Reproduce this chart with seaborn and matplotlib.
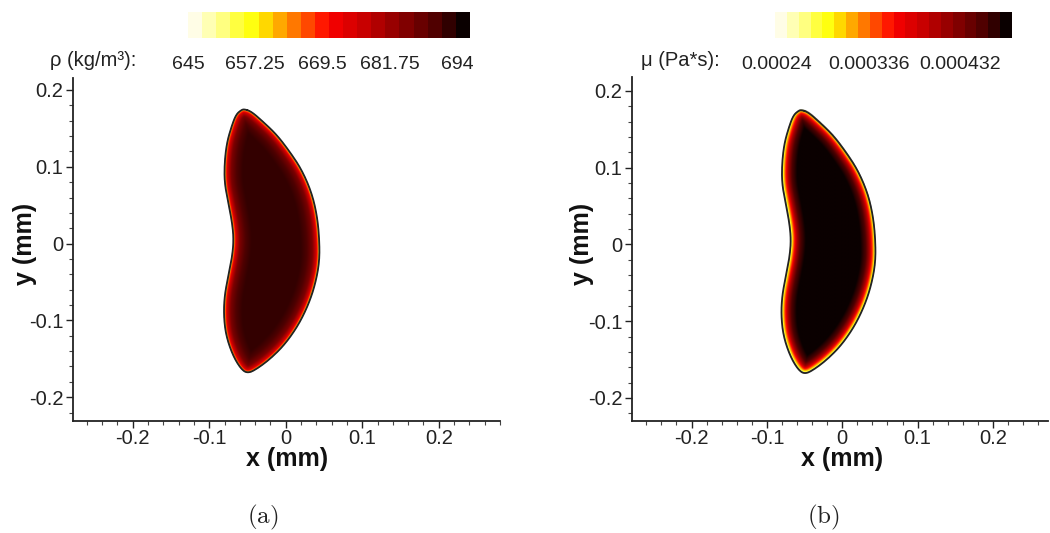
import numpy as np
import matplotlib
matplotlib.use("Agg")
import matplotlib.pyplot as plt
from matplotlib.path import Path
from matplotlib.colors import LinearSegmentedColormap, Normalize
from matplotlib.ticker import MultipleLocator
import seaborn as sns

# droplet interface (mm), traced from the upper tip, clockwise
outline_x = [-0.054, -0.045, -0.030, -0.012, 0.005, 0.021, 0.034, 0.041, 0.044,
             0.044, 0.038, 0.029, 0.016, -0.001, -0.019, -0.036, -0.049, -0.058,
             -0.069, -0.078, -0.081, -0.080, -0.075, -0.070, -0.068, -0.070,
             -0.075, -0.080, -0.080, -0.077, -0.071, -0.065, -0.058]
outline_y = [0.175, 0.172, 0.159, 0.142, 0.120, 0.096, 0.066, 0.036, 0.005,
             -0.025, -0.055, -0.081, -0.107, -0.131, -0.149, -0.162, -0.169, -0.164,
             -0.146, -0.120, -0.094, -0.068, -0.042, -0.017, 0.005, 0.027,
             0.053, 0.079, 0.105, 0.131, 0.152, 0.168, 0.174]

# colour bands of the legend, light to dark
band_colors = ["#fffde6", "#ffffb4", "#ffff80", "#ffff40", "#ffff10", "#ffd800",
               "#ffa800", "#ff7800", "#ff4800", "#ff1800", "#f00000", "#dc0000",
               "#c80000", "#b00000", "#980000", "#800000", "#680000", "#500000",
               "#300000", "#0a0000"]

# (a) density: value vs depth below the interface
rho_ticks = [645, 657.25, 669.5, 681.75, 694]
rho_labels = ["645", "657.25", "669.5", "681.75", "694"]
rho_range = (645, 696.4)
rho_depth = [0.0, 0.0015, 0.004, 0.009, 0.016, 0.024]
rho_value = [652, 664, 676, 686, 691, 693.3]

# (b) viscosity
mu_ticks = [0.00024, 0.000336, 0.000432]
mu_labels = ["0.00024", "0.000336", "0.000432"]
mu_range = (0.000238, 0.000486)
mu_depth = [0.0, 0.0015, 0.004, 0.008, 0.013, 0.020]
mu_value = [0.00025, 0.00029, 0.00034, 0.00041, 0.00046, 0.000486]

xtick_vals = [-0.2, -0.1, 0, 0.1, 0.2]
tick_labels = ["-0.2", "-0.1", "0", "0.1", "0.2"]


def chaikin(x, y, n=3):
    p = np.column_stack([x, y])
    for _ in range(n):
        q = np.roll(p, -1, axis=0)
        p = np.column_stack([0.75 * p + 0.25 * q, 0.25 * p + 0.75 * q]).reshape(-1, 2)
    return p


def depth_field(poly, xs, ys):
    X, Y = np.meshgrid(xs, ys)
    pts = np.column_stack([X.ravel(), Y.ravel()])
    inside = Path(poly).contains_points(pts)
    sub = pts[inside]
    d = np.full(len(sub), np.inf)
    b = np.roll(poly, -1, axis=0)
    for (x0, y0), (x1, y1) in zip(poly, b):
        dx, dy = x1 - x0, y1 - y0
        t = ((sub[:, 0] - x0) * dx + (sub[:, 1] - y0) * dy) / (dx * dx + dy * dy)
        t = np.clip(t, 0, 1)
        dist = np.hypot(sub[:, 0] - (x0 + t * dx), sub[:, 1] - (y0 + t * dy))
        d = np.minimum(d, dist)
    full = np.full(len(pts), np.nan)
    full[inside] = d
    return full.reshape(X.shape)


sns.set_theme(style="ticks")
plt.rcParams["font.family"] = ["Liberation Sans", "DejaVu Sans"]
plt.rcParams["mathtext.fontset"] = "cm"

cmap = LinearSegmentedColormap.from_list("drop", band_colors)
poly = chaikin(outline_x, outline_y)
xs = np.arange(-0.1, 0.07, 0.0004)
ys = np.arange(-0.19, 0.2, 0.0004)
depth = depth_field(poly, xs, ys)

fig = plt.figure(figsize=(10.5, 5.33), dpi=100)
W, H = 1050, 533

panels = [
    dict(box=(73, 78, 500, 421), xlim=(-0.278, 0.28), ylim=(-0.231, 0.2156),
         cbar=(188, 12, 470, 38), rng=rho_range, ticks=rho_ticks, tl=rho_labels,
         depth=rho_depth, value=rho_value, title="ρ (kg/m³):", tx=50,
         sub="(a)", sx=263, ylab=25, xlab=287),
    dict(box=(632, 77, 1048, 421), xlim=(-0.279, 0.273), ylim=(-0.230, 0.218),
         cbar=(775, 12, 1012, 38), rng=mu_range, ticks=mu_ticks, tl=mu_labels,
         depth=mu_depth, value=mu_value, title="μ (Pa*s):", tx=641,
         sub="(b)", sx=823, ylab=582, xlab=842),
]

for p in panels:
    l, t, r, b = p["box"]
    ax = fig.add_axes([l / W, 1 - b / H, (r - l) / W, (b - t) / H])
    field = np.interp(np.nan_to_num(depth, nan=0), p["depth"], p["value"])
    field = np.ma.masked_where(np.isnan(depth), field)
    ax.imshow(field, extent=(xs[0], xs[-1], ys[0], ys[-1]), origin="lower",
              cmap=cmap, vmin=p["rng"][0], vmax=p["rng"][1],
              interpolation="bilinear", aspect="auto")
    closed = np.vstack([poly, poly[:1]])
    sns.lineplot(x=closed[:, 0], y=closed[:, 1], sort=False, estimator=None,
                 color="#222222", lw=1.3, ax=ax)
    ax.set_xlim(*p["xlim"])
    ax.set_ylim(*p["ylim"])
    ax.set_xticks(xtick_vals, tick_labels)
    ax.set_yticks(xtick_vals, tick_labels)
    ax.xaxis.set_minor_locator(MultipleLocator(0.02))
    ax.yaxis.set_minor_locator(MultipleLocator(0.02))
    ax.tick_params(which="major", length=5, width=1, pad=2, labelsize=14.5,
                   colors="#222222")
    ax.tick_params(axis="x", which="major", pad=1)
    ax.tick_params(which="minor", length=3, width=0.8, colors="#444444")
    sns.despine(ax=ax)
    for s in ("left", "bottom"):
        ax.spines[s].set_color("#222222")
        ax.spines[s].set_linewidth(1.3)

    ax.set_xlabel("x (mm)", fontsize=18, fontweight="bold", color="#111111")
    ax.set_ylabel("y (mm)", fontsize=18, fontweight="bold", color="#111111")
    ax.xaxis.label.set_va("center")
    ax.yaxis.label.set_va("center")
    ax.yaxis.label.set_ha("center")
    ax.xaxis.set_label_coords((p["xlab"] - l) / (r - l), (b - 459) / (b - t))
    ax.yaxis.set_label_coords((p["ylab"] - l) / (r - l), (b - 244) / (b - t))

    cl, ct, cr, cb_ = p["cbar"]
    cax = fig.add_axes([cl / W, 1 - cb_ / H, (cr - cl) / W, (cb_ - ct) / H])
    sm = plt.cm.ScalarMappable(norm=Normalize(*p["rng"]), cmap=cmap.resampled(20))
    cbar = fig.colorbar(sm, cax=cax, orientation="horizontal")
    cbar.outline.set_visible(False)
    cbar.set_ticks(p["ticks"], labels=p["tl"])
    cax.tick_params(length=0, pad=13, labelsize=14, colors="#222222")
    fig.text(p["tx"] / W, 1 - 61 / H, p["title"], ha="left", va="center",
             fontsize=14.5, color="#222222")
    fig.text(p["sx"] / W, 1 - 517 / H, r"$\mathrm{" + p["sub"] + "}$",
             ha="center", va="center", fontsize=18, color="#222222")

fig.savefig("out.png", dpi=100, facecolor="white")
